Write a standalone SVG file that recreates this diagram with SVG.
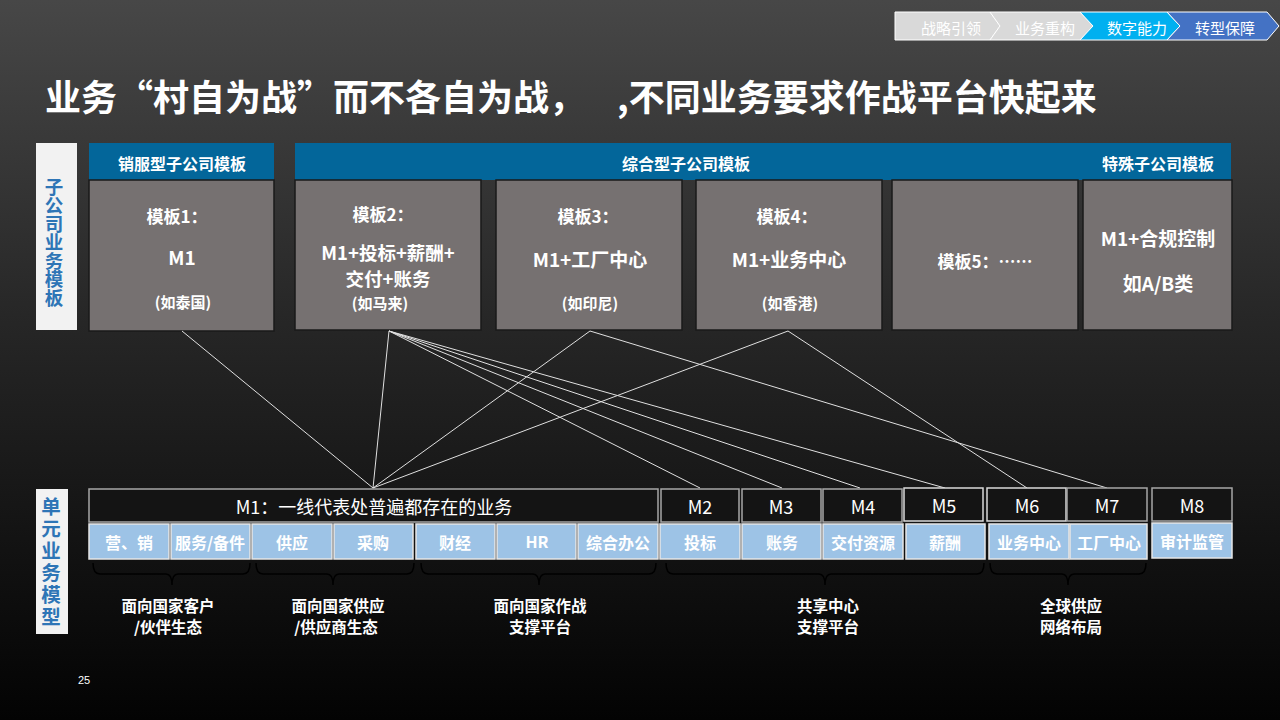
<svg xmlns="http://www.w3.org/2000/svg" width="1280" height="720" viewBox="0 0 1280 720">
<defs>
<linearGradient id="bg" x1="0" y1="0" x2="0" y2="1">
<stop offset="0" stop-color="#474747"/>
<stop offset="0.45" stop-color="#262626"/>
<stop offset="1" stop-color="#030303"/>
</linearGradient>
<style>
text{font-family:"Noto Sans CJK SC","Noto Sans",sans-serif;dominant-baseline:central;text-anchor:middle;fill:#fff}
.crumb{font-size:15px}
.hdr{fill:#03669a}
.hdrt{font-size:16px;font-weight:bold}
.tpl{fill:#767171;stroke:#1a1a1a;stroke-width:1.5}
.t17{font-size:17px;font-weight:bold}
.t19{font-size:19px;font-weight:bold}
.t14{font-size:15px;font-weight:bold}
.side{fill:#f2f2f2}
.vt{fill:#2e75b6;font-weight:bold;writing-mode:vertical-rl}
.mbox{fill:#141414;stroke:#a6a6a6;stroke-width:1.5}
.mboxw{fill:#141414;stroke:#d9d9d9;stroke-width:1.5}
.mt{font-size:18px}
.cell{fill:#9dc3e6;stroke:#e6e6e6;stroke-width:1.5}
.ct{font-size:16px;font-weight:bold}
.brace{fill:none;stroke:#000;stroke-width:1.5}
.lbl{font-size:15.5px;font-weight:bold}
.conn line{stroke:#e0e0e0;stroke-width:1}
</style>
</defs>
<rect x="0" y="0" width="1280" height="720" fill="url(#bg)"/>

<g id="breadcrumb">
<polygon points="895,12 990,12 1000,26 990,40 895,40" fill="#d9d9d9" stroke="#fff" stroke-width="1"/>
<polygon points="990,12 1080,12 1093,26 1080,40 990,40 1000,26" fill="#d9d9d9" stroke="#fff" stroke-width="1"/>
<polygon points="1080,12 1167,12 1180,26 1167,40 1080,40 1093,26" fill="#00b0f0" stroke="#fff" stroke-width="1"/>
<polygon points="1167,12 1267,12 1279,26 1267,40 1167,40 1180,26" fill="#4472c4" stroke="#fff" stroke-width="1"/>
<text class="crumb" x="951" y="27">战略引领</text>
<text class="crumb" x="1045" y="27">业务重构</text>
<text class="crumb" x="1137" y="27">数字能力</text>
<text class="crumb" x="1225" y="27">转型保障</text>
</g>

<g id="title">
<text x="45" y="95" style="text-anchor:start;font-size:36px;font-weight:bold">业务“村自为战”而不各自为战，<tspan x="617">,不同业务要求作战平台快起来</tspan></text>
</g>

<g id="side-top">
<rect class="side" x="36" y="143" width="41" height="187"/>
<text class="vt" x="54" y="242" style="font-size:18.5px">子公司业务模板</text>
</g>
<g id="side-bottom">
<rect class="side" x="36" y="489" width="32" height="145"/>
<text class="vt" x="51" y="563" style="font-size:19.5px;letter-spacing:2.5px">单元业务模型</text>
</g>

<g id="header-sales">
<rect class="hdr" x="89" y="143" width="185" height="37"/>
<text class="hdrt" x="182" y="163">销服型子公司模板</text>
</g>
<g id="header-general">
<rect class="hdr" x="295" y="143" width="936" height="37"/>
<text class="hdrt" x="686" y="163">综合型子公司模板</text>
<text class="hdrt" x="1158" y="163">特殊子公司模板</text>
</g>

<g id="tpl1">
<rect class="tpl" x="89" y="180" width="185" height="151"/>
<text class="t17" x="177" y="215">模板1：</text>
<text class="t19" x="182" y="256">M1</text>
<text class="t14" x="183" y="301">(如泰国)</text>
</g>
<g id="tpl2">
<rect class="tpl" x="295" y="180" width="186" height="150"/>
<text class="t17" x="383" y="213">模板2：</text>
<text class="t19" x="388" y="252" style="font-size:18.5px">M1+投标+薪酬+</text>
<text class="t19" x="388" y="278" style="font-size:18.5px">交付+账务</text>
<text class="t14" x="380" y="302">(如马来)</text>
</g>
<g id="tpl3">
<rect class="tpl" x="496" y="180" width="186" height="150"/>
<text class="t17" x="588" y="215">模板3：</text>
<text class="t19" x="590" y="258">M1+工厂中心</text>
<text class="t14" x="590" y="302">(如印尼)</text>
</g>
<g id="tpl4">
<rect class="tpl" x="696" y="180" width="186" height="150"/>
<text class="t17" x="787" y="215">模板4：</text>
<text class="t19" x="789" y="258">M1+业务中心</text>
<text class="t14" x="790" y="302">(如香港)</text>
</g>
<g id="tpl5">
<rect class="tpl" x="892" y="180" width="186" height="150"/>
<text class="t17" x="985" y="260">模板5：……</text>
</g>
<g id="tpl6">
<rect class="tpl" x="1083" y="180" width="149" height="150"/>
<text class="t19" x="1158" y="237">M1+合规控制</text>
<text class="t19" x="1158" y="282">如A/B类</text>
</g>

<g id="connectors" class="conn">
<line x1="182" y1="331" x2="373" y2="488"/>
<line x1="389" y1="331" x2="373" y2="488"/>
<line x1="389" y1="331" x2="700" y2="488"/>
<line x1="389" y1="331" x2="782" y2="488"/>
<line x1="389" y1="331" x2="860" y2="488"/>
<line x1="389" y1="331" x2="945" y2="488"/>
<line x1="590" y1="331" x2="373" y2="488"/>
<line x1="590" y1="331" x2="1107" y2="488"/>
<line x1="788" y1="331" x2="373" y2="488"/>
<line x1="788" y1="331" x2="1027" y2="488"/>
</g>

<g id="m1">
<rect class="mbox" x="89" y="489" width="569" height="33"/>
<text class="mt" x="374" y="506">M1：一线代表处普遍都存在的业务</text>
</g>
<g id="m2"><rect class="mbox" x="661" y="489" width="78" height="33"/><text class="mt" x="700" y="506">M2</text></g>
<g id="m3"><rect class="mbox" x="742" y="489" width="79" height="33"/><text class="mt" x="781" y="506">M3</text></g>
<g id="m4"><rect class="mbox" x="823" y="489" width="79" height="33"/><text class="mt" x="863" y="506">M4</text></g>
<g id="m5"><rect class="mboxw" x="904" y="488" width="79" height="33"/><text class="mt" x="944" y="505">M5</text></g>
<g id="m6"><rect class="mboxw" x="987" y="488" width="79" height="33"/><text class="mt" x="1027" y="505">M6</text></g>
<g id="m7"><rect class="mbox" x="1067" y="488" width="80" height="33"/><text class="mt" x="1107" y="505">M7</text></g>
<g id="m8"><rect class="mbox" x="1152" y="488" width="80" height="33"/><text class="mt" x="1192" y="505">M8</text></g>

<g id="cells">
<g id="c-sales"><rect class="cell" x="89" y="524" width="80" height="35"/><text class="ct" x="129" y="542">营、销</text></g>
<g id="c-service"><rect class="cell" x="171" y="524" width="79" height="35"/><text class="ct" x="210" y="542">服务/备件</text></g>
<g id="c-supply"><rect class="cell" x="252" y="524" width="80" height="35"/><text class="ct" x="292" y="542">供应</text></g>
<g id="c-purchase"><rect class="cell" x="334" y="524" width="79" height="35"/><text class="ct" x="373" y="542">采购</text></g>
<g id="c-finance"><rect class="cell" x="416" y="524" width="79" height="35"/><text class="ct" x="455" y="542">财经</text></g>
<g id="c-hr"><rect class="cell" x="497" y="524" width="79" height="35"/><text class="ct" x="537" y="541">HR</text></g>
<g id="c-office"><rect class="cell" x="578" y="524" width="80" height="35"/><text class="ct" x="618" y="542">综合办公</text></g>
<g id="c-bid"><rect class="cell" x="660" y="524" width="80" height="35"/><text class="ct" x="700" y="542">投标</text></g>
<g id="c-acct"><rect class="cell" x="742" y="524" width="79" height="35"/><text class="ct" x="782" y="542">账务</text></g>
<g id="c-deliver"><rect class="cell" x="823" y="524" width="80" height="35"/><text class="ct" x="863" y="542">交付资源</text></g>
<g id="c-pay"><rect class="cell" x="906" y="524" width="79" height="35"/><text class="ct" x="945" y="542">薪酬</text></g>
<g id="c-biz"><rect class="cell" x="989" y="524" width="80" height="35"/><text class="ct" x="1029" y="542">业务中心</text></g>
<g id="c-factory"><rect class="cell" x="1070" y="524" width="77" height="35"/><text class="ct" x="1109" y="542">工厂中心</text></g>
<g id="c-audit"><rect class="cell" x="1152" y="523" width="80" height="35"/><text class="ct" x="1192" y="541">审计监管</text></g>
</g>

<g id="braces">
<path class="brace" d="M93,563 Q93,574 100,574 L166,574 Q172,574 172,585 Q172,574 178,574 L243,574 Q250,574 250,563"/>
<path class="brace" d="M256,563 Q256,574 263,574 L327,574 Q333,574 333,585 Q333,574 339,574 L407,574 Q414,574 414,563"/>
<path class="brace" d="M421,563 Q421,574 428,574 L533,574 Q539,574 539,585 Q539,574 545,574 L649,574 Q656,574 656,563"/>
<path class="brace" d="M666,563 Q666,574 673,574 L819,574 Q825,574 825,585 Q825,574 831,574 L977,574 Q984,574 984,563"/>
<path class="brace" d="M990,563 Q990,574 997,574 L1062,574 Q1068,574 1068,585 Q1068,574 1074,574 L1139,574 Q1146,574 1146,563"/>
</g>

<g id="labels">
<text class="lbl"><tspan x="168" y="605">面向国家客户</tspan><tspan x="168" y="626">/伙伴生态</tspan></text>
<text class="lbl"><tspan x="338" y="605">面向国家供应</tspan><tspan x="336" y="626">/供应商生态</tspan></text>
<text class="lbl"><tspan x="540" y="605">面向国家作战</tspan><tspan x="540" y="626">支撑平台</tspan></text>
<text class="lbl"><tspan x="828" y="605">共享中心</tspan><tspan x="828" y="626">支撑平台</tspan></text>
<text class="lbl"><tspan x="1071" y="605">全球供应</tspan><tspan x="1071" y="626">网络布局</tspan></text>
</g>

<text x="84" y="680" style="font-size:11px;font-family:'Liberation Sans',sans-serif">25</text>
</svg>
